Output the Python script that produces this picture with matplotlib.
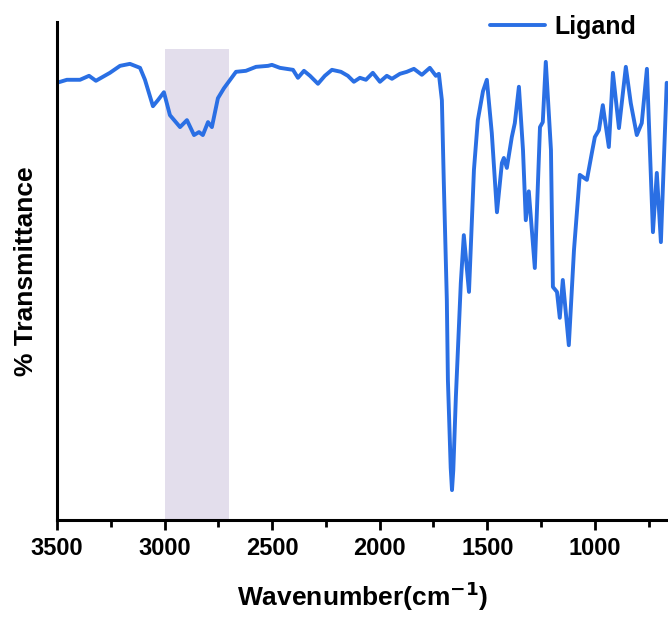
import matplotlib.pyplot as plt
from matplotlib.ticker import MultipleLocator

plt.rcParams["font.family"] = ["Liberation Sans", "DejaVu Sans"]
plt.rcParams["font.weight"] = "bold"

# FTIR spectrum of the ligand
wavenumber = [
    3500, 3454, 3393, 3351, 3319, 3254, 3207, 3161, 3114, 3091,
    3054, 3031, 3003, 2975, 2928, 2896, 2863, 2840, 2822, 2798,
    2780, 2752, 2724, 2668, 2622, 2575, 2519, 2501, 2464, 2403,
    2380, 2352, 2324, 2287, 2255, 2222, 2180, 2148, 2120, 2092,
    2064, 2032, 1999, 1967, 1943, 1906, 1874, 1841, 1804, 1767,
    1739, 1725, 1711, 1702, 1688, 1683, 1670, 1664, 1658, 1646,
    1623, 1609, 1585, 1562, 1544, 1520, 1502, 1479, 1455, 1432,
    1423, 1409, 1386, 1372, 1353, 1334, 1321, 1307, 1279, 1255,
    1242, 1228, 1204, 1195, 1176, 1163, 1149, 1121, 1097, 1070,
    1037, 1014, 1000, 981, 963, 935, 916, 888, 856, 833,
    805, 782, 758, 730, 712, 693, 666,
]
transmittance = [
    87.8, 88.4, 88.4, 89.2, 88.2, 89.8, 91.2, 91.6, 90.8, 88.4,
    83.1, 84.3, 85.9, 81.3, 78.9, 80.3, 77.3, 77.9, 77.3, 79.9,
    78.9, 84.7, 86.7, 90.0, 90.2, 91.0, 91.2, 91.4, 90.8, 90.4,
    88.8, 90.2, 89.2, 87.6, 89.2, 90.4, 90.0, 89.2, 88.0, 88.8,
    88.4, 89.8, 88.0, 89.2, 88.6, 89.6, 90.0, 90.6, 89.4, 90.8,
    89.2, 89.6, 84.3, 67.7, 44.2, 28.1, 10.5, 6.0, 10.0, 24.7,
    47.6, 57.2, 45.8, 70.3, 80.3, 86.1, 88.4, 77.7, 61.8, 71.7,
    72.7, 70.7, 76.9, 79.7, 87.0, 74.3, 60.2, 66.0, 50.6, 78.9,
    79.9, 92.0, 74.3, 46.8, 45.8, 40.6, 48.2, 35.1, 54.2, 69.3,
    68.3, 73.7, 76.9, 78.3, 83.3, 74.9, 89.8, 78.7, 91.0, 83.7,
    77.3, 79.7, 90.6, 57.8, 69.7, 55.8, 87.8,
]

band = (3000, 2700)

fig = plt.figure(figsize=(6.68, 6.24), dpi=100)
ax = fig.add_axes([0.0853, 0.1667, 0.9147, 0.798])

ax.axvspan(band[0], band[1], ymin=0, ymax=0.946, color="#e3deec", lw=0)
ax.plot(wavenumber, transmittance, color="#2a6fe4", lw=2.8, label="Ligand",
        solid_joinstyle="round", solid_capstyle="round")

ax.set_xlim(3500, 660)
ax.set_ylim(0, 100)
ax.set_yticks([])
ax.xaxis.set_major_locator(MultipleLocator(500))
ax.xaxis.set_minor_locator(MultipleLocator(250))
ax.tick_params(axis="x", which="major", length=7, width=2, labelsize=17, pad=5)
ax.tick_params(axis="x", which="minor", length=5, width=2)

for side in ["top", "right"]:
    ax.spines[side].set_visible(False)
for side in ["left", "bottom"]:
    ax.spines[side].set_linewidth(2.2)

ax.set_xlabel("Wavenumber(cm$^{\\mathbf{-1}}$)", fontsize=19, fontweight="bold", labelpad=14)
ax.set_ylabel("% Transmittance", fontsize=19, fontweight="bold", labelpad=14)

ax.legend(loc="center", bbox_to_anchor=(0.843, 0.957), bbox_transform=fig.transFigure,
          frameon=False, fontsize=18, handlelength=2.2, handletextpad=0.4)

fig.savefig("out.png", dpi=100)
